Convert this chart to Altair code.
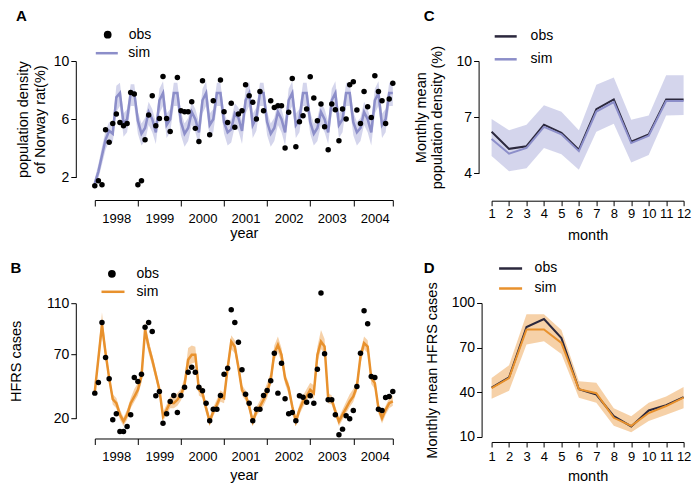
import altair as alt
import pandas as pd

FONT = "Liberation Sans"
PURPLE = "#8c8ec9"
PURPLE_BAND = "#cfd0ea"
ORANGE = "#e8912d"
ORANGE_BAND = "#f5cc9e"
DARK = "#2b283d"

# ---------------- data ----------------
t = list(range(84))                      # month index, Jan 1998 = 0
year_ticks = [0, 12, 24, 36, 48, 60, 72, 83]
months = list(range(1, 13))

# Panel A: population density of Norway rat (%)
obs_a = [1.43, 1.77, 1.50, 5.28, 4.41, 5.71, 6.36, 5.78, 5.55, 5.71, 7.84, 7.73,
         1.50, 1.77, 4.59, 6.29, 7.61, 5.55, 6.05, 8.94, 6.05, 5.16, None, 8.87,
         6.58, 6.51, 6.51, 7.20, 5.37, 4.47, 8.65, None, 4.93, 7.27, None, 8.69,
         6.51, 5.78, 7.09, 5.44, 6.36, 6.58, 8.37, 7.61, 7.16, 6.01, 7.91, 6.58,
         None, 7.27, 6.81, 6.93, 6.93, 4.02, 6.47, 8.80, 4.11, 5.83, 6.24, 6.70,
         8.92, 7.45, 5.90, 7.04, 5.48, 3.90, 7.04, 6.65, 4.52, 6.70, 6.01, 8.37,
         8.58, 6.63, 5.71, 7.91, 6.86, 6.12, 8.99, 7.91, 7.27, 5.71, 7.39, 8.47]
sim_a = [1.6, 2.4, 3.5, 4.6, 5.2, 5.0, 7.5, 7.8, 5.7, 6.0, 7.8, 7.8,
         5.9, 5.0, 5.4, 6.5, 6.0, 5.1, 7.3, 7.8, 5.6, 6.0, 7.8, 7.8,
         5.8, 5.0, 5.4, 6.5, 6.0, 5.1, 7.3, 7.8, 5.6, 6.0, 7.8, 7.8,
         5.8, 5.1, 5.3, 6.4, 6.1, 5.2, 7.3, 7.8, 5.6, 6.1, 7.8, 7.8,
         5.8, 5.0, 5.4, 6.5, 6.0, 5.1, 7.3, 7.8, 5.6, 6.0, 7.8, 7.8,
         5.8, 5.0, 5.4, 6.5, 6.0, 5.1, 7.3, 7.8, 5.6, 6.0, 7.8, 7.8,
         5.8, 5.1, 5.4, 6.5, 6.0, 5.1, 7.3, 7.8, 5.6, 6.0, 7.8, 7.8]
lo_a = [1.3, 1.9, 2.9, 3.9, 4.5, 4.4, 6.5, 6.9, 4.8, 5.1, 6.9, 6.9,
        5.0, 4.2, 4.5, 5.6, 5.1, 4.3, 6.4, 6.9, 4.7, 5.1, 6.9, 6.9,
        4.9, 4.1, 4.5, 5.6, 5.1, 4.2, 6.4, 6.9, 4.7, 5.1, 6.9, 6.9,
        5.0, 4.2, 4.4, 5.5, 5.2, 4.3, 6.4, 6.9, 4.7, 5.2, 6.9, 6.9,
        4.9, 4.1, 4.5, 5.6, 5.1, 4.2, 6.4, 6.9, 4.7, 5.1, 6.9, 6.9,
        5.0, 4.2, 4.5, 5.6, 5.1, 4.3, 6.4, 6.9, 4.7, 5.1, 6.9, 6.9,
        4.9, 4.2, 4.5, 5.6, 5.1, 4.2, 6.4, 6.9, 4.7, 5.1, 6.9, 6.9]
hi_a = [1.9, 2.9, 4.1, 5.2, 5.8, 5.7, 8.3, 8.5, 6.4, 6.7, 8.4, 8.4,
        6.5, 5.7, 6.1, 7.2, 6.7, 5.8, 8.1, 8.6, 6.4, 6.7, 8.5, 8.5,
        6.5, 5.7, 6.1, 7.2, 6.7, 5.8, 8.1, 8.6, 6.4, 6.7, 8.5, 8.5,
        6.5, 5.8, 6.0, 7.1, 6.8, 5.9, 8.1, 8.6, 6.4, 6.8, 8.5, 8.5,
        6.5, 5.7, 6.1, 7.2, 6.7, 5.8, 8.1, 8.6, 6.4, 6.7, 8.5, 8.5,
        6.5, 5.7, 6.1, 7.2, 6.7, 5.8, 8.1, 8.6, 6.4, 6.7, 8.5, 8.5,
        6.5, 5.8, 6.1, 7.2, 6.7, 5.8, 8.1, 8.6, 6.4, 6.7, 8.5, 8.5]

# Panel B: HFRS cases
obs_b = [39.8, 48.1, 94.9, 67.6, 51.0, 19.0, 23.7, 9.9, 9.9, 13.8, 22.9, 52.0,
         48.9, 54.6, 91.3, 94.9, 87.9, 37.7, 41.1, 16.3, 23.7, 33.3, 38.0, 24.7,
         38.0, 44.4, 56.1, 60.0, 56.1, 44.4, 41.6, 31.9, 18.2, 27.3, 27.3, 38.0,
         54.6, 59.3, 104.8, 94.9, 79.6, 58.0, 39.0, 31.9, 18.2, 27.3, 27.3, 38.0,
         41.9, 49.4, 71.0, 39.8, 63.2, 35.4, 23.7, 24.7, 18.2, 37.7, 36.6, 32.7,
         37.7, 31.9, 58.5, 118.0, 70.5, 34.6, 34.6, 22.9, 7.3, 11.7, 22.1, 19.8,
         26.2, 45.0, 71.0, 104.1, 93.9, 52.8, 52.0, 27.3, 26.2, 36.4, 37.2, 41.1]
sim_b = [41, 67, 93, 71, 51.5, 35, 32, 23, 17.7, 23, 32, 37,
         42.4, 52.8, 89.2, 76.2, 65.8, 54.1, 42.4, 21.6, 26.8, 32.5, 31.9, 34.6,
         38.5, 46.3, 65.8, 69.7, 69.7, 42.4, 39.8, 28.1, 17.7, 25.5, 30.7, 37.2,
         35.8, 59.3, 80, 76, 60, 42, 38, 29.4, 17.7, 25.5, 29.4, 34.6,
         41.1, 50.1, 71, 77.5, 69.7, 51.5, 43.7, 29.4, 17.7, 26.8, 33.3, 37.2,
         42.4, 39.8, 69.7, 80.1, 76.2, 35.8, 34.6, 25.5, 17.7, 23, 28.1, 33.3,
         37.2, 45, 68.4, 78.8, 76.2, 51.5, 47.6, 28.1, 20.3, 26.8, 32, 33.3]
hi_b = [44, 73, 103, 77, 55, 39, 36, 27, 21, 27, 36, 43,
        48, 59, 96, 81, 70, 58, 46, 25, 31, 37, 37, 40,
        43, 52, 75, 77, 76, 47, 44, 32, 21, 29, 35, 42,
        40, 64, 85, 81, 64, 46, 42, 33, 21, 29, 34, 40,
        48, 56, 77, 84, 75, 55, 48, 33, 21, 31, 38, 43,
        48, 46, 76, 89, 82, 40, 38, 29, 21, 27, 33, 39,
        43, 50, 73, 84, 81, 56, 52, 32, 24, 30, 36, 38]
lo_b = [39, 62, 86, 66, 48, 31, 28, 19, 14, 19, 28, 33,
        38, 48, 83, 71, 61, 50, 38, 18, 23, 28, 28, 30,
        34, 42, 60, 63, 64, 38, 36, 24, 14, 22, 27, 33,
        32, 55, 74, 71, 56, 38, 34, 26, 14, 22, 26, 30,
        36, 46, 65, 72, 64, 47, 39, 26, 14, 23, 29, 33,
        38, 35, 64, 74, 71, 32, 31, 22, 14, 19, 24, 29,
        33, 41, 63, 74, 71, 47, 43, 24, 16, 23, 28, 30]

# Panel C: monthly mean population density (%)
obs_c = [6.22, 5.31, 5.45, 6.60, 6.17, 5.27, 7.43, 7.95, 5.70, 6.08, 7.95, 7.95]
sim_c = [5.84, 5.05, 5.36, 6.48, 6.09, 5.19, 7.30, 7.81, 5.62, 6.01, 7.86, 7.86]
hi_c = [6.91, 6.31, 6.60, 7.64, 7.29, 6.31, 8.73, 9.12, 6.86, 7.09, 9.24, 9.24]
lo_c = [4.93, 4.11, 4.27, 5.36, 5.02, 4.19, 6.22, 6.65, 4.58, 4.98, 7.09, 7.12]

# Panel D: monthly mean HFRS cases
obs_d = [43.2, 50.0, 83.9, 89.2, 76.4, 42.1, 38.5, 24.0, 17.1, 27.8, 31.4, 36.8]
sim_d = [42.8, 49.5, 82.2, 82.2, 73.2, 42.1, 39.4, 22.9, 17.5, 26.1, 30.8, 36.4]
hi_d = [49.6, 58.2, 92.5, 92.5, 81.8, 47.5, 46.4, 29.3, 24.0, 33.0, 37.2, 43.6]
lo_d = [35.7, 41.0, 72.1, 74.3, 65.7, 36.3, 33.0, 17.5, 13.2, 20.7, 25.0, 29.3]


# ---------------- helpers ----------------
def x_year(offset, label_pad, title_pad):
    ax = alt.Axis(values=year_ticks,
                  labelExpr="datum.value >= 83 ? '' : '' + (1998 + floor(datum.value / 12))",
                  labelOffset=21.5, labelFlush=False, labelOverlap=False,
                  offset=offset, tickSize=6, labelPadding=label_pad,
                  title="year", titlePadding=title_pad, labelFontSize=13, titleFontSize=14.5)
    return alt.X("t:Q", scale=alt.Scale(domain=[0, 83], nice=False, zero=False), axis=ax)


def x_month(offset, label_pad, title_pad):
    ax = alt.Axis(values=months, format="d", labelFlush=False, labelOverlap=False,
                  offset=offset, tickSize=5, labelPadding=label_pad,
                  title="month", titlePadding=title_pad, labelFontSize=13, titleFontSize=14.5)
    return alt.X("m:Q", scale=alt.Scale(domain=[1, 12], nice=False, zero=False), axis=ax)


def y_enc(field, domain, values, offset, title, title_pad):
    ax = alt.Axis(values=values, offset=offset, title=title, titlePadding=title_pad,
                  tickSize=5, labelPadding=2, labelFontSize=14, titleFontSize=14.5,
                  labelOverlap=False, labelFlush=False)
    return alt.Y(f"{field}:Q", scale=alt.Scale(domain=domain, nice=False, zero=False), axis=ax)


def letter(lab, dx, dy):
    return alt.Chart(pd.DataFrame({"lab": [lab]})).mark_text(
        font=FONT, fontSize=15, fontWeight="bold", align="center", baseline="middle",
        color="black").encode(text="lab:N", x=alt.value(dx), y=alt.value(dy))


def pt_legend(x, y, off):
    return alt.Legend(orient="none", legendX=x, legendY=y, title=None, symbolType="circle",
                      symbolSize=60, symbolOpacity=1, labelFontSize=14, labelOffset=off,
                      padding=0, labelFont=FONT)


def line_legend(x, y, off, size, rowpad):
    return alt.Legend(orient="none", legendX=x, legendY=y, title=None, symbolType="stroke",
                      symbolSize=size, symbolStrokeWidth=2.5, labelFontSize=14,
                      labelOffset=off, rowPadding=rowpad, padding=0, labelFont=FONT)


# ---------------- panel A ----------------
dfA = pd.DataFrame({"t": t, "obs": obs_a, "sim": sim_a, "lo": lo_a, "hi": hi_a})
dfA["o"] = "obs"
dfA["s"] = "sim"
xA = x_year(22.6, 6, 1.5)
yA = lambda f: y_enc(f, [2, 10], [2, 6, 10], 19, ["population density", "of Norway rat(%)"], 5.8)
baseA = alt.Chart(dfA)
A = alt.layer(
    baseA.mark_area(color=PURPLE_BAND, opacity=0.9).encode(x=xA, y=yA("lo"), y2="hi:Q"),
    baseA.mark_line(strokeWidth=2.5).encode(
        x=xA, y=yA("sim"),
        stroke=alt.Stroke("s:N", scale=alt.Scale(domain=["sim"], range=[PURPLE]),
                          legend=line_legend(-0.5, -20.3, 9, 484, 0))),
    baseA.mark_circle(size=30, opacity=1).encode(
        x=xA, y=yA("obs"),
        fill=alt.Fill("o:N", scale=alt.Scale(domain=["obs"], range=["black"]),
                      legend=pt_legend(5.9, -33.3, 14))),
    letter("A", -73.5, -45.3),
).properties(width=298, height=116.4)

# ---------------- panel B ----------------
dfB = pd.DataFrame({"t": t, "obs": obs_b, "sim": sim_b, "lo": lo_b, "hi": hi_b})
dfB["o"] = "obs"
dfB["s"] = "sim"
xB = x_year(20, 5.9, 4.7)
yB = lambda f: y_enc(f, [20, 110], [20, 70, 110], 19, "HFRS cases", 23.4)
baseB = alt.Chart(dfB)
B = alt.layer(
    baseB.mark_area(color=ORANGE_BAND, opacity=0.9).encode(x=xB, y=yB("lo"), y2="hi:Q"),
    baseB.mark_line(strokeWidth=2.5).encode(
        x=xB, y=yB("sim"),
        stroke=alt.Stroke("s:N", scale=alt.Scale(domain=["sim"], range=[ORANGE]),
                          legend=line_legend(5.2, -24.4, 10.6, 529, 0))),
    baseB.mark_circle(size=30, opacity=1).encode(
        x=xB, y=yB("obs"),
        fill=alt.Fill("o:N", scale=alt.Scale(domain=["obs"], range=["black"]),
                      legend=pt_legend(10.1, -36.4, 17.5))),
    letter("B", -79, -35),
).properties(width=298, height=115.3)

# ---------------- panel C ----------------
dfC = pd.DataFrame({"m": months * 2, "v": obs_c + sim_c, "series": ["obs"] * 12 + ["sim"] * 12})
dfCb = pd.DataFrame({"m": months, "lo": lo_c, "hi": hi_c})
xC = x_month(27.3, 1.6, 8.4)
yC = lambda f: y_enc(f, [4, 10], [4, 7, 10], 13, ["Monthly mean", "population density (%)"], 11.4)
C = alt.layer(
    alt.Chart(dfCb).mark_area(color=PURPLE_BAND, opacity=0.9).encode(x=xC, y=yC("lo"), y2="hi:Q"),
    alt.Chart(dfC).mark_line(strokeWidth=2).encode(
        x=xC, y=yC("v"),
        stroke=alt.Stroke("series:N", scale=alt.Scale(domain=["obs", "sim"], range=[DARK, PURPLE]),
                          legend=line_legend(1.6, -37.1, 12.4, 484, 2.9))),
    letter("C", -62.4, -45.3),
).properties(width=192, height=112.4)

# ---------------- panel D ----------------
dfD = pd.DataFrame({"m": months * 2, "v": obs_d + sim_d, "series": ["obs"] * 12 + ["sim"] * 12})
dfDb = pd.DataFrame({"m": months, "lo": lo_d, "hi": hi_d})
xD = x_month(5, 3.9, 5.2)
yD = lambda f: y_enc(f, [10, 100], [10, 40, 70, 100], 10, "Monthly mean HFRS cases", 12.2)
D = alt.layer(
    alt.Chart(dfDb).mark_area(color=ORANGE_BAND, opacity=0.9).encode(x=xD, y=yD("lo"), y2="hi:Q"),
    alt.Chart(dfD).mark_line(strokeWidth=2).encode(
        x=xD, y=yD("v"),
        stroke=alt.Stroke("series:N", scale=alt.Scale(domain=["obs", "sim"], range=[DARK, ORANGE]),
                          legend=line_legend(6, -47.5, 11, 529, -6.6))),
    letter("D", -62.4, -35),
).properties(width=192, height=134)


def indep(ch):
    return ch.resolve_scale(x="independent", y="independent", fill="independent",
                            stroke="independent").resolve_legend(fill="independent",
                                                                 stroke="independent")


left = indep(alt.vconcat(A, B, spacing=21.2))
right = indep(alt.vconcat(C, D, spacing=12))
chart = indep(alt.hconcat(left, right, spacing=-2.2)).properties(
    padding={"left": -0.2, "top": 0, "right": 0, "bottom": 0}
).configure_view(stroke=None).configure_axis(
    grid=False, domainColor="black", tickColor="black", labelColor="black",
    titleColor="black", labelFont=FONT, titleFont=FONT, titleFontWeight="normal",
    domainWidth=1, tickWidth=1
).configure_legend(labelFont=FONT, labelColor="black")

chart.save("out.html", embed_options={"renderer": "svg", "actions": False})
